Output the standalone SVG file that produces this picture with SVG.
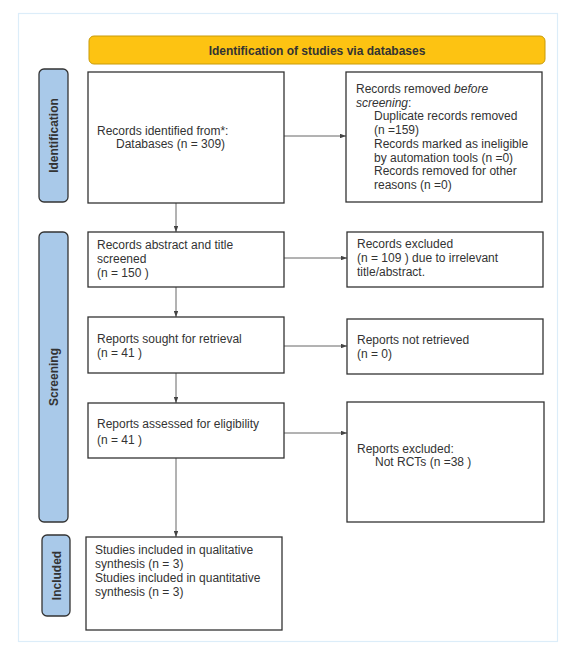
<svg xmlns="http://www.w3.org/2000/svg" width="572" height="656" viewBox="0 0 572 656">
<style>
text{font-family:"Liberation Sans",Arial,sans-serif;font-size:12px;fill:#333}
.box{fill:#fff;stroke:#333;stroke-width:1.3}
.side{fill:#a9c9e9;stroke:#333;stroke-width:1.3}
.lbl{font-weight:bold;text-anchor:middle}
.con{stroke:#666;stroke-width:1;fill:none}
</style>
<defs>
<marker id="ah" viewBox="0 0 8 6" refX="8" refY="3" markerWidth="6" markerHeight="4.5" orient="auto" markerUnits="userSpaceOnUse">
<path d="M0,0 L8,3 L0,6 z" fill="#444"/>
</marker>
</defs>
<rect x="18.5" y="13.5" width="539" height="628" fill="#fff" stroke="#dcedf9" stroke-width="1.2"/>
<g id="header">
<rect x="89" y="36" width="456" height="28" rx="5" fill="#fdc312" stroke="#c99b08" stroke-width="1"/>
<text class="lbl" x="317" y="55">Identification of studies via databases</text>
</g>
<g id="side-identification">
<rect class="side" x="39" y="69" width="29" height="133" rx="5"/>
<text class="lbl" transform="translate(58 135.5) rotate(-90)">Identification</text>
</g>
<g id="side-screening">
<rect class="side" x="39" y="232" width="29" height="290" rx="5"/>
<text class="lbl" transform="translate(58 377) rotate(-90)">Screening</text>
</g>
<g id="side-included">
<rect class="side" x="42" y="535" width="28" height="81" rx="5"/>
<text class="lbl" transform="translate(60.5 575.5) rotate(-90)">Included</text>
</g>
<g id="connectors">
<line class="con" x1="284" y1="136" x2="346" y2="136" marker-end="url(#ah)"/>
<line class="con" x1="176" y1="203" x2="176" y2="232" marker-end="url(#ah)"/>
<line class="con" x1="284" y1="258" x2="347" y2="258" marker-end="url(#ah)"/>
<line class="con" x1="176" y1="287" x2="176" y2="317" marker-end="url(#ah)"/>
<line class="con" x1="284" y1="346" x2="347" y2="346" marker-end="url(#ah)"/>
<line class="con" x1="176" y1="373" x2="176" y2="403" marker-end="url(#ah)"/>
<line class="con" x1="284" y1="433" x2="347" y2="433" marker-end="url(#ah)"/>
<line class="con" x1="176" y1="458" x2="176" y2="537" marker-end="url(#ah)"/>
</g>
<g id="records-identified">
<rect class="box" x="88" y="72" width="196" height="131"/>
<text x="97" y="135">Records identified from*:</text>
<text x="116" y="148">Databases (n = 309)</text>
</g>
<g id="records-removed">
<rect class="box" x="346" y="72" width="196" height="130"/>
<text x="356" y="93">Records removed <tspan font-style="italic">before</tspan></text>
<text x="356" y="106.7"><tspan font-style="italic">screening</tspan>:</text>
<text x="374" y="120.4">Duplicate records removed</text>
<text x="374" y="134.1">(n =159)</text>
<text x="374" y="147.8">Records marked as ineligible</text>
<text x="374" y="161.5">by automation tools (n =0)</text>
<text x="374" y="175.2">Records removed for other</text>
<text x="374" y="188.9">reasons (n =0)</text>
</g>
<g id="records-screened">
<rect class="box" x="88" y="232" width="196" height="55"/>
<text x="97" y="249">Records abstract and title</text>
<text x="97" y="263">screened</text>
<text x="97" y="277">(n = 150 )</text>
</g>
<g id="records-excluded">
<rect class="box" x="347" y="232" width="196" height="55"/>
<text x="357" y="248">Records excluded</text>
<text x="357" y="262">(n = 109 ) due to irrelevant</text>
<text x="357" y="276">title/abstract.</text>
</g>
<g id="reports-sought">
<rect class="box" x="88" y="317" width="196" height="56"/>
<text x="97" y="343">Reports sought for retrieval</text>
<text x="97" y="357">(n = 41 )</text>
</g>
<g id="reports-not-retrieved">
<rect class="box" x="347" y="319" width="196" height="55"/>
<text x="357" y="344">Reports not retrieved</text>
<text x="357" y="358">(n = 0)</text>
</g>
<g id="reports-assessed">
<rect class="box" x="88" y="403" width="196" height="55"/>
<text x="97" y="428">Reports assessed for eligibility</text>
<text x="97" y="444">(n = 41 )</text>
</g>
<g id="reports-excluded">
<rect class="box" x="347" y="402" width="197" height="120"/>
<text x="357" y="453">Reports excluded:</text>
<text x="375" y="466">Not RCTs  (n =38 )</text>
</g>
<g id="studies-included">
<rect class="box" x="86" y="537" width="196" height="93"/>
<text x="95" y="554">Studies included in qualitative</text>
<text x="95" y="568">synthesis (n = 3)</text>
<text x="95" y="582">Studies included in quantitative</text>
<text x="95" y="596">synthesis (n = 3)</text>
</g>
</svg>
